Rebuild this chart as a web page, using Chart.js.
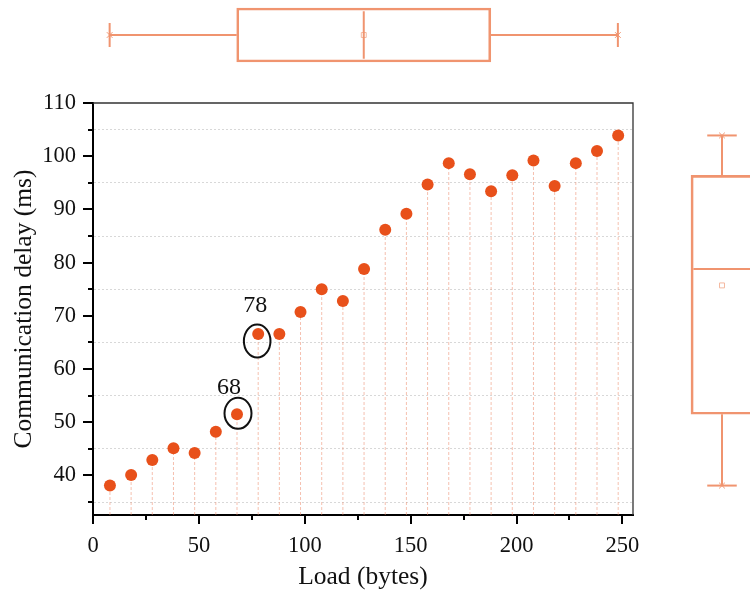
<!DOCTYPE html>
<html><head><meta charset="utf-8">
<script src="https://cdn.jsdelivr.net/npm/chart.js@4"></script>
<style>
html,body{margin:0;padding:0;background:#fff;overflow:hidden}
#wrap{position:relative;width:750px;height:596px;overflow:hidden;background:#fff}
canvas{position:absolute;top:0}
#main{left:0}
#topBox{left:0}
#rightBox{left:657px}
</style></head><body>
<div id="wrap">
<canvas id="main" width="750" height="596" style="width:750px;height:596px"></canvas>
<canvas id="topBox" width="750" height="70" style="width:750px;height:70px"></canvas>
<canvas id="rightBox" width="130" height="596" style="width:130px;height:596px"></canvas>
</div>
<script>
// ---- data ----
const loads  = [8,18,28,38,48,58,68,78,88,98,108,118,128,138,148,158,168,178,188,198,208,218,228,238,248];
const delays = [38.1,40.1,42.9,45.1,44.2,48.2,51.5,66.6,66.6,70.7,75.0,72.8,78.8,86.2,89.2,94.7,98.7,96.6,93.4,96.4,99.2,94.4,98.7,101.0,103.9];
const xTicks  = [0,25,50,75,100,125,150,175,200,225,250];
const xLabels = [0,50,100,150,200,250];
const yTicks  = [35,40,45,50,55,60,65,70,75,80,85,90,95,100,105,110];
const yLabels = [40,50,60,70,80,90,100,110];
const annotated = [68,78];
const xRange = [0,255];
const yRange = [32.57,110];
const xTitle = 'Load (bytes)';
const yTitle = 'Communication delay (ms)';

// ---- style ----
const SERIF = '"Liberation Serif","Times New Roman",serif';
const PT = '#E8501A';
const BOX = '#F0946F';
const DROP = 'rgba(236,140,110,0.55)';

function stats(arr){
  const s=[...arr].sort((a,b)=>a-b);
  const q=p=>{const i=(s.length-1)*p, lo=Math.floor(i), hi=Math.ceil(i); return s[lo]+(s[hi]-s[lo])*(i-lo);};
  return {min:s[0], q1:q(.25), med:q(.5), q3:q(.75), max:s[s.length-1], mean:s.reduce((a,b)=>a+b,0)/s.length};
}

const dropData = [];
loads.forEach((x,i)=>{ dropData.push({x,y:yRange[0]},{x,y:delays[i]},{x,y:null}); });

const decor = {
  id:'decor',
  afterDraw(chart){
    const {ctx, chartArea:a, scales:{x,y}} = chart;
    ctx.save();
    ctx.strokeStyle='#333'; ctx.lineWidth=1.3;
    ctx.beginPath(); ctx.moveTo(a.left,a.top); ctx.lineTo(a.right,a.top); ctx.lineTo(a.right,a.bottom); ctx.stroke();
    ctx.strokeStyle='#000'; ctx.lineWidth=2;
    y.ticks.forEach(t=>{const len=yLabels.includes(t.value)?10:5; const p=Math.round(y.getPixelForValue(t.value));
      ctx.beginPath(); ctx.moveTo(a.left-len,p); ctx.lineTo(a.left,p); ctx.stroke();});
    x.ticks.forEach(t=>{const len=xLabels.includes(t.value)?9:5; const p=Math.round(x.getPixelForValue(t.value));
      ctx.beginPath(); ctx.moveTo(p,a.bottom); ctx.lineTo(p,a.bottom+len); ctx.stroke();});
    // annotations
    const ell=[{rx:13.5,ry:15.5,dx:1,dy:-1},{rx:13.3,ry:16.5,dx:-1,dy:7}];
    const lab=[{dx:-8,dy:-27},{dx:-3,dy:-28}];
    ctx.fillStyle='#111'; ctx.font='24px '+SERIF; ctx.textAlign='center'; ctx.textBaseline='middle';
    annotated.forEach((v,k)=>{
      const i=loads.indexOf(v); const px=x.getPixelForValue(v), py=y.getPixelForValue(delays[i]);
      ctx.strokeStyle='#111'; ctx.lineWidth=2;
      ctx.beginPath(); ctx.ellipse(px+ell[k].dx,py+ell[k].dy,ell[k].rx,ell[k].ry,0,0,Math.PI*2); ctx.stroke();
      ctx.fillText(String(v), px+lab[k].dx, py+lab[k].dy);
    });
    ctx.restore();
  }
};

new Chart(document.getElementById('main'),{
  data:{datasets:[
    {type:'line', data:dropData, borderColor:DROP, borderWidth:1, borderDash:[3,2], pointRadius:0, spanGaps:false, order:2},
    {type:'scatter', data:loads.map((x,i)=>({x,y:delays[i]})), backgroundColor:PT, borderWidth:0, pointRadius:6, order:1}
  ]},
  options:{
    responsive:false, animation:false, events:[],
    layout:{padding:{top:103,right:117,left:0,bottom:0}},
    plugins:{legend:{display:false},tooltip:{enabled:false}},
    scales:{
      x:{type:'linear', min:xRange[0], max:xRange[1],
        afterBuildTicks:s=>{s.ticks=xTicks.map(v=>({value:v}));},
        afterFit:s=>{s.height=81;},
        ticks:{callback:v=>xLabels.includes(v)?String(v):'', autoSkip:false, maxRotation:0, padding:8, color:'#111', font:{family:SERIF,size:22.5}},
        grid:{color:'rgba(0,0,0,0)', tickColor:'rgba(0,0,0,0)', tickLength:10},
        border:{color:'#000', width:2},
        title:{display:true, text:xTitle, color:'#111', font:{family:SERIF,size:25.5}, padding:{top:0,bottom:3}}
      },
      y:{type:'linear', min:yRange[0], max:yRange[1],
        afterBuildTicks:s=>{s.ticks=yTicks.map(v=>({value:v}));},
        afterFit:s=>{s.width=93;},
        ticks:{callback:v=>yLabels.includes(v)?String(v):'', autoSkip:false, padding:7, color:'#111', font:{family:SERIF,size:22.5}},
        grid:{color:c=>(c.tick && yLabels.includes(c.tick.value))?'rgba(0,0,0,0)':'#d8d8d8', lineWidth:1, tickColor:'rgba(0,0,0,0)', tickLength:10},
        border:{color:'#000', width:2, dash:[2,2]},
        title:{display:true, text:yTitle, color:'#111', font:{family:SERIF,size:25.5}, padding:{top:9,bottom:0}}
      }
    }
  },
  plugins:[decor]
});

// ---- top box plot (load distribution) ----
const sx = stats(loads);
const lineDS = (pts)=>({type:'line', data:pts, borderColor:BOX, borderWidth:2, pointRadius:0});
new Chart(document.getElementById('topBox'),{
  data:{datasets:[
    {type:'bar', indexAxis:'y', data:[{x:[sx.q1,sx.q3], y:0}], backgroundColor:'rgba(255,255,255,0)', borderColor:BOX, borderWidth:2, borderSkipped:false, barThickness:54},
    lineDS([{x:sx.min,y:0},{x:sx.q1,y:0}]),
    lineDS([{x:sx.q3,y:0},{x:sx.max,y:0}]),
    lineDS([{x:sx.min,y:-0.4},{x:sx.min,y:0.4}]),
    lineDS([{x:sx.max,y:-0.4},{x:sx.max,y:0.4}]),
    lineDS([{x:sx.med,y:-0.794},{x:sx.med,y:0.794}]),
    {type:'scatter', data:[{x:sx.mean,y:0}], pointStyle:'rect', pointRadius:3.5, backgroundColor:'#fff', borderColor:'#F4B9A0', borderWidth:1},
    {type:'scatter', data:[{x:sx.min,y:0},{x:sx.max,y:0}], pointStyle:'crossRot', pointRadius:4, borderColor:BOX, borderWidth:1}
  ]},
  options:{
    responsive:false, animation:false, events:[],
    layout:{padding:{top:0,bottom:2,left:92.7,right:117.3}},
    plugins:{legend:{display:false},tooltip:{enabled:false}},
    scales:{x:{type:'linear',min:xRange[0],max:xRange[1],display:false,offset:false}, y:{type:'linear',min:-1,max:1,display:false,offset:false}}
  }
});

// ---- right box plot (delay distribution) ----
const sy = stats(delays);
new Chart(document.getElementById('rightBox'),{
  data:{datasets:[
    {type:'bar', data:[{x:0, y:[sy.q1,sy.q3]}], backgroundColor:'rgba(255,255,255,0)', borderColor:BOX, borderWidth:2, borderSkipped:false, barThickness:62},
    lineDS([{x:0,y:sy.min},{x:0,y:sy.q1}]),
    lineDS([{x:0,y:sy.q3},{x:0,y:sy.max}]),
    lineDS([{x:-0.246,y:sy.min},{x:0.246,y:sy.min}]),
    lineDS([{x:-0.246,y:sy.max},{x:0.246,y:sy.max}]),
    lineDS([{x:-0.477,y:sy.med},{x:0.477,y:sy.med}]),
    {type:'scatter', data:[{x:0,y:sy.mean}], pointStyle:'rect', pointRadius:3.5, backgroundColor:'#fff', borderColor:'#F4B9A0', borderWidth:1},
    {type:'scatter', data:[{x:0,y:sy.min},{x:0,y:sy.max}], pointStyle:'crossRot', pointRadius:4, borderColor:BOX, borderWidth:1}
  ]},
  options:{
    responsive:false, animation:false, events:[],
    layout:{padding:{top:103,bottom:81,left:0,right:0}},
    plugins:{legend:{display:false},tooltip:{enabled:false}},
    scales:{x:{type:'linear',min:-1,max:1,display:false,offset:false}, y:{type:'linear',min:yRange[0],max:yRange[1],display:false,offset:false}}
  }
});
</script>
</body></html>
